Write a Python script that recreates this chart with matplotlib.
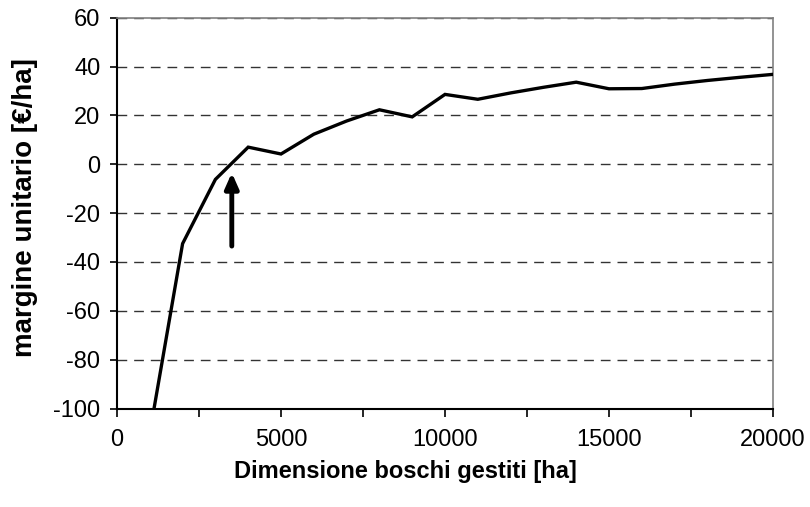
import numpy as np
import matplotlib.pyplot as plt
from matplotlib.ticker import MultipleLocator

plt.rcParams['font.family'] = ['Liberation Sans', 'DejaVu Sans']
plt.rcParams['axes.unicode_minus'] = False

# dimensione boschi gestiti [ha] vs margine unitario [euro/ha]
ha = [1000, 2000, 3000, 4000, 5000, 6000, 7000, 8000, 9000, 10000,
      11000, 12000, 13000, 14000, 15000, 16000, 17000, 18000, 19000, 20000]
margine = [-110, -32.5, -6.2, 7.0, 4.2, 12.3, 17.7, 22.3, 19.4, 28.6,
           26.6, 29.2, 31.5, 33.6, 30.9, 31.0, 32.8, 34.3, 35.6, 36.8]

# freccia (soglia di pareggio)
arrow_x = 3500
arrow_from = -33.5
arrow_to = -3.5

fig = plt.figure(figsize=(8.1, 5.07), dpi=100)
ax = fig.add_axes([117/810, 1 - 408.5/507, (773-117)/810, (408.5-17.7)/507])

ax.plot(ha, margine, color='black', lw=2.4, solid_joinstyle='miter', clip_on=True, zorder=3)
ax.annotate('', xy=(arrow_x, arrow_to), xytext=(arrow_x, arrow_from),
            arrowprops=dict(arrowstyle='-|>,head_width=0.4,head_length=0.9',
                            color='black', lw=3.5, shrinkA=0, shrinkB=0), zorder=4)

ax.set_xlim(0, 20000)
ax.set_ylim(-100, 60)
ax.xaxis.set_major_locator(MultipleLocator(5000))
ax.xaxis.set_minor_locator(MultipleLocator(2500))
ax.yaxis.set_major_locator(MultipleLocator(20))

ax.grid(axis='y', color='#333333', linestyle=(0, (7, 5)), lw=1.0, zorder=1)
ax.set_axisbelow(True)

for s in ['top', 'right']:
    ax.spines[s].set_color('#808080')
    ax.spines[s].set_linewidth(1.2)
for s in ['left', 'bottom']:
    ax.spines[s].set_color('black')
    ax.spines[s].set_linewidth(1.5)

ax.tick_params(axis='both', which='both', direction='out', color='black', width=1.2, labelsize=17)
ax.tick_params(axis='x', which='both', length=6, pad=9)
ax.tick_params(axis='y', length=5, pad=7)

ax.set_xlabel('Dimensione boschi gestiti [ha]', fontsize=17, fontweight='bold')
ax.set_ylabel('margine unitario [€/ha]', fontsize=20, fontweight='bold')
ax.xaxis.set_label_coords(0.439, -0.132)
ax.yaxis.set_label_coords(-0.120, 0.513)

fig.savefig('out.png', dpi=100)
